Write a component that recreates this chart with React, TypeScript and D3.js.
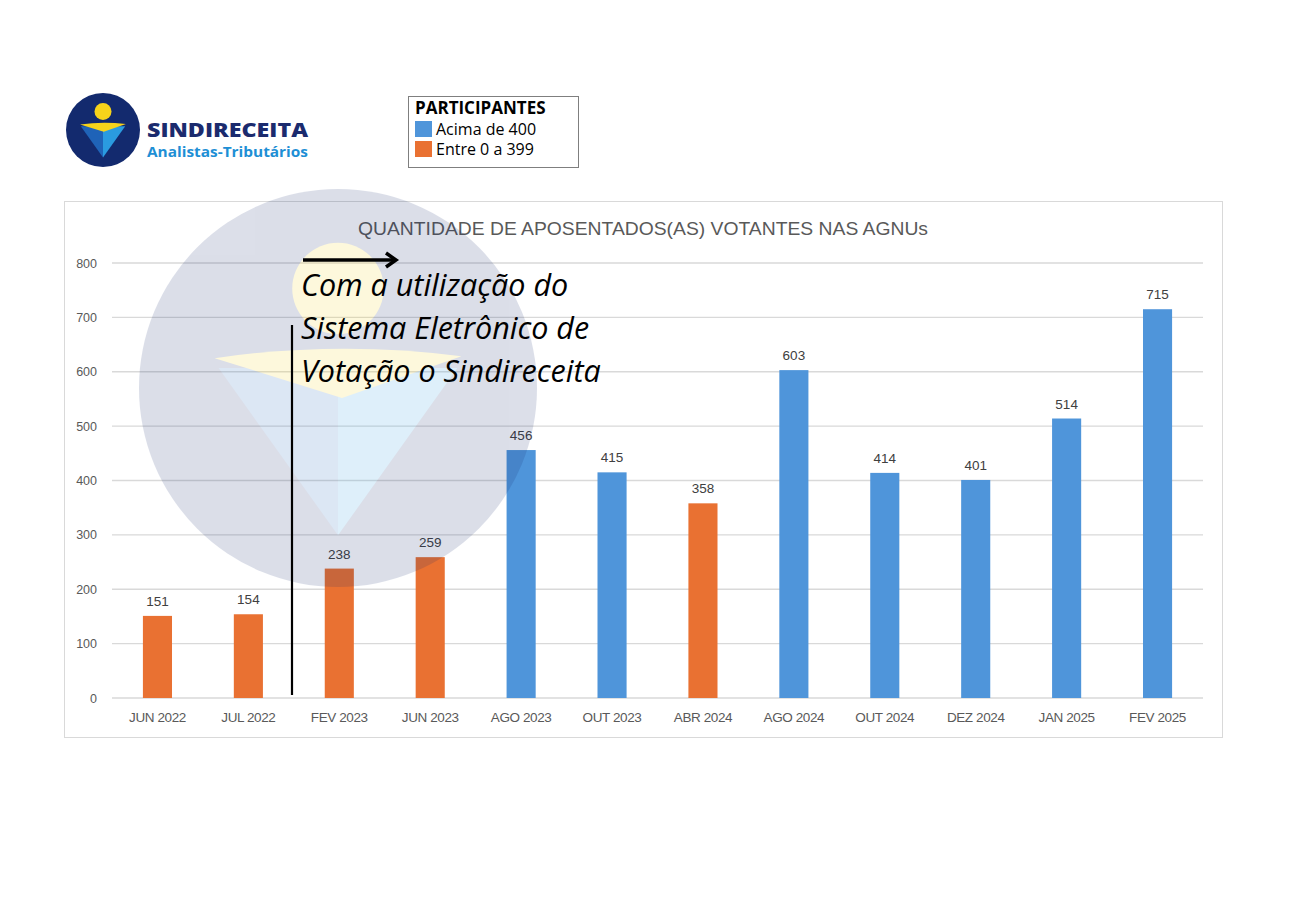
import React from "react";
import * as d3 from "d3";

const categories = ["JUN 2022","JUL 2022","FEV 2023","JUN 2023","AGO 2023","OUT 2023","ABR 2024","AGO 2024","OUT 2024","DEZ 2024","JAN 2025","FEV 2025"];
const values = [151,154,238,259,456,415,358,603,414,401,514,715];
const yTicks = [0,100,200,300,400,500,600,700,800];
const legendItems = ["Acima de 400","Entre 0 a 399"];
const annotationLines = ["Com a utilização do","Sistema Eletrônico de","Votação o Sindireceita"];
const title = "QUANTIDADE DE APOSENTADOS(AS) VOTANTES NAS AGNUs";

const BLUE = "#4f95da";
const ORANGE = "#e97132";
const NAVY = "#132a6e";

function Logo({ cx, cy, r }: { cx: number; cy: number; r: number }) {
  const p = (x: number, y: number) => `${cx + x * r},${cy + y * r}`;
  return (
    <g>
      <circle cx={cx} cy={cy} r={r} fill={NAVY} />
      <polygon points={`${p(-0.6,-0.1)} ${p(0,-0.1)} ${p(0,0.74)}`} fill="#1f63b8" />
      <polygon points={`${p(0,-0.1)} ${p(0.6,-0.1)} ${p(0,0.74)}`} fill="#2a9be0" />
      <path d={`M${p(-0.62,-0.15)} Q${p(0,-0.24)} ${p(0.62,-0.16)} L${p(0.02,0.05)} Z`} fill="#f7d31a" />
      <circle cx={cx} cy={cy - 0.5 * r} r={0.23 * r} fill="#f7d31a" />
    </g>
  );
}

export default function App() {
  const x = d3.scaleBand<string>().domain(categories).range([112, 1203]).paddingInner(0.68).paddingOuter(0.34);
  const y = d3.scaleLinear().domain([0, 800]).range([698, 263]);
  const colorOf = (v: number) => (v >= 400 ? BLUE : ORANGE);

  return (
    <svg width={1298} height={918} style={{ position: "absolute", left: 0, top: 0, background: "#fff" }}>
      <rect x={0} y={0} width={1298} height={918} fill="#fff" />
      {/* header logo */}
      <Logo cx={103} cy={130} r={37} />
      <text x={147} y={137} fontFamily="'Open Sans', sans-serif" fontWeight={800} fontSize={20} fill="#1b2b6e" textLength={161} lengthAdjust="spacingAndGlyphs">SINDIRECEITA</text>
      <text x={147} y={157} fontFamily="'Open Sans', sans-serif" fontWeight={700} fontSize={14} fill="#1e8fd5" textLength={161} lengthAdjust="spacingAndGlyphs">Analistas-Tributários</text>

      {/* legend */}
      <rect x={408.5} y={96.5} width={170} height={71} fill="#fff" stroke="#7f7f7f" strokeWidth={1} />
      <text x={415} y={114} fontFamily="'Open Sans', sans-serif" fontWeight={700} fontSize={17} fill="#000">PARTICIPANTES</text>
      {legendItems.map((t, i) => (
        <g key={t}>
          <rect x={415} y={121 + i * 20} width={17} height={16} fill={i === 0 ? BLUE : ORANGE} />
          <text x={436} y={134.5 + i * 20} fontFamily="'Open Sans', sans-serif" fontSize={16} fill="#000">{t}</text>
        </g>
      ))}

      {/* chart frame */}
      <rect x={64.5} y={201.5} width={1158} height={536} fill="#fff" stroke="#d9d9d9" strokeWidth={1} />
      <text x={643} y={235} textAnchor="middle" fontFamily="'Liberation Sans', Arial, sans-serif" fontSize={18.5} fill="#595959" textLength={570} lengthAdjust="spacingAndGlyphs">{title}</text>

      {/* grid */}
      {yTicks.map((t) => (
        <g key={t}>
          <line x1={112} x2={1203} y1={y(t)} y2={y(t)} stroke="#d9d9d9" strokeWidth={1.3} />
          <text x={97} y={y(t) + 4.5} textAnchor="end" fontFamily="'Liberation Sans', Arial, sans-serif" fontSize={12.5} fill="#595959">{t}</text>
        </g>
      ))}

      {/* bars */}
      {categories.map((c, i) => (
        <g key={c}>
          <rect x={x(c)} y={y(values[i])} width={x.bandwidth()} height={y(0) - y(values[i])} fill={colorOf(values[i])} />
          <text x={(x(c) as number) + x.bandwidth() / 2} y={y(values[i]) - 10} textAnchor="middle" fontFamily="'Liberation Sans', Arial, sans-serif" fontSize={13.5} fill="#404040">{values[i]}</text>
          <text x={(x(c) as number) + x.bandwidth() / 2} y={722} textAnchor="middle" fontFamily="'Liberation Sans', Arial, sans-serif" fontSize={13.5} fill="#595959" letterSpacing={-0.4}>{c}</text>
        </g>
      ))}

      {/* watermark */}
      <g opacity={0.15}>
        <Logo cx={338} cy={388} r={199} />
      </g>

      {/* annotation */}
      <line x1={292} x2={292} y1={325} y2={695} stroke="#000" strokeWidth={2.2} />
      <line x1={303} x2={394} y1={260} y2={260} stroke="#000" strokeWidth={3.5} />
      <polyline points="386,253 396,260 386,267" fill="none" stroke="#000" strokeWidth={3.5} strokeLinejoin="miter" />
      {annotationLines.map((t, i) => (
        <text key={t} x={301} y={296 + i * 43} fontFamily="'Open Sans', sans-serif" fontStyle="italic" fontSize={30.5} fill="#000">{t}</text>
      ))}
    </svg>
  );
}
